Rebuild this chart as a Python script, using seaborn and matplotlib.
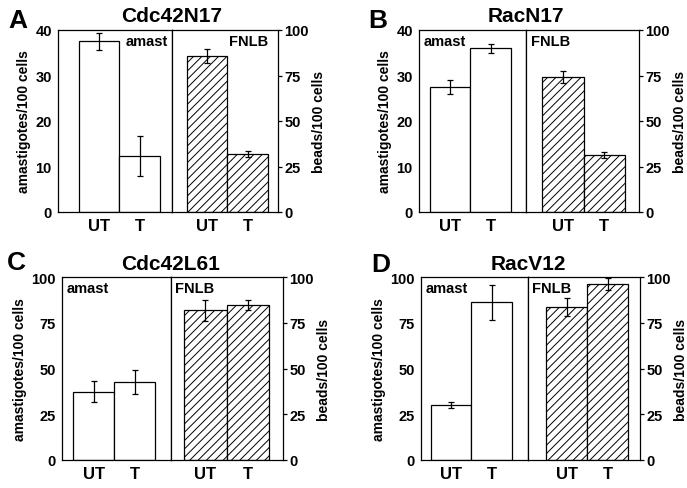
import numpy as np
import pandas as pd
import seaborn as sns
import matplotlib.pyplot as plt

# Data (per panel: UT, T)
panel_letters = ["A", "B", "C", "D"]
titles = ["Cdc42N17", "RacN17", "Cdc42L61", "RacV12"]
treatments = ["UT", "T"]

amast_vals = [[37.5, 12.3], [27.5, 36.0], [37.3, 42.5], [30.1, 86.2]]
amast_err = [[1.9, 4.3], [1.5, 1.0], [5.7, 6.6], [1.5, 9.5]]
fnlb_vals = [[85.8, 31.8], [74.3, 31.2], [81.9, 84.5], [83.6, 96.2]]
fnlb_err = [[4.0, 1.5], [3.4, 1.6], [5.8, 2.8], [5.0, 3.2]]
amast_max = [40, 40, 100, 100]
amast_step = [10, 10, 25, 25]

# Layout in pixels: left edge, divider, right edge, top, bottom
W, H = 687, 489
boxes = [(58, 172, 278, 31, 213), (419, 526, 639, 31, 213),
         (62, 171, 283, 278, 461), (421, 528, 640, 278, 461)]
xlims_left = [(-1.02, 1.80), (-0.77, 1.87), (-0.77, 1.89), (-0.75, 1.90)]
xlims_right = [(-0.87, 1.75), (-0.89, 1.84), (-0.81, 1.83), (-0.94, 1.79)]
letter_pos = [(8, 21), (368, 21), (7, 263), (371, 265)]
title_y = [17, 17, 265, 265]
text_left_side = [False, True, True, True]

sns.set_style("white")
plt.rcParams['font.family'] = ['Liberation Sans', 'DejaVu Sans']
plt.rcParams['font.weight'] = 'bold'
plt.rcParams['axes.labelweight'] = 'bold'
plt.rcParams['text.color'] = 'black'
plt.rcParams['axes.labelcolor'] = 'black'
plt.rcParams['xtick.color'] = 'black'
plt.rcParams['ytick.color'] = 'black'
plt.rcParams['axes.edgecolor'] = 'black'
plt.rcParams['hatch.linewidth'] = 0.7
plt.rcParams['axes.linewidth'] = 0.9

fig = plt.figure(figsize=(W / 100, H / 100), dpi=100)


def style_half(ax, side):
    for s in ["left", "right", "top", "bottom"]:
        ax.spines[s].set_visible(True)
        ax.spines[s].set_color("black")
        ax.spines[s].set_linewidth(0.9)
    ax.tick_params(axis="x", length=0, pad=4, labelsize=12)
    ax.tick_params(axis="y", length=3, width=0.9, direction="out", pad=1.5,
                   labelsize=10.5, colors="black")
    ax.set_xlabel("")
    for lab in ax.get_xticklabels() + ax.get_yticklabels():
        lab.set_fontweight("bold")
    if side == "right":
        ax.yaxis.tick_right()
        ax.yaxis.set_label_position("right")


for i in range(4):
    lx0, div, rx1, top, bot = boxes[i]
    axl = fig.add_axes([lx0 / W, 1 - bot / H, (div - lx0) / W, (bot - top) / H])
    axr = fig.add_axes([div / W, 1 - bot / H, (rx1 - div) / W, (bot - top) / H])

    # amastigotes (left scale)
    df_a = pd.DataFrame({"treatment": treatments, "value": amast_vals[i]})
    sns.barplot(data=df_a, x="treatment", y="value", ax=axl, width=1,
                color="white", saturation=1, edgecolor="black",
                linewidth=0.9, errorbar=None)
    axl.errorbar(np.arange(len(treatments)), amast_vals[i], yerr=amast_err[i],
                 fmt="none", ecolor="black", elinewidth=0.9, capsize=2.2,
                 capthick=0.9, zorder=5, clip_on=False)
    axl.set_ylim(0, amast_max[i])
    axl.set_yticks(np.arange(0, amast_max[i] + 1, amast_step[i]))
    axl.set_xlim(*xlims_left[i])
    axl.set_ylabel("amastigotes/100 cells", fontsize=10, labelpad=3)
    style_half(axl, "left")

    # FNLB beads (right scale)
    df_f = pd.DataFrame({"treatment": treatments, "value": fnlb_vals[i]})
    sns.barplot(data=df_f, x="treatment", y="value", ax=axr, width=1,
                color="white", saturation=1, edgecolor="black",
                linewidth=0.9, errorbar=None)
    for p in axr.patches:
        p.set_hatch("////")
    axr.errorbar(np.arange(len(treatments)), fnlb_vals[i], yerr=fnlb_err[i],
                 fmt="none", ecolor="black", elinewidth=0.9, capsize=2.2,
                 capthick=0.9, zorder=5, clip_on=False)
    axr.set_ylim(0, 100)
    axr.set_yticks(np.arange(0, 101, 25))
    axr.set_xlim(*xlims_right[i])
    axr.set_ylabel("beads/100 cells", fontsize=10, labelpad=2)
    style_half(axr, "right")

    # labels inside the halves
    if text_left_side[i]:
        axl.text(0.04, 0.94, "amast", transform=axl.transAxes, ha="left",
                 va="center", fontsize=10.5, fontweight="bold")
        axr.text(0.04, 0.94, "FNLB", transform=axr.transAxes, ha="left",
                 va="center", fontsize=10.5, fontweight="bold")
    else:
        axl.text(0.96, 0.94, "amast", transform=axl.transAxes, ha="right",
                 va="center", fontsize=10.5, fontweight="bold")
        axr.text(0.91, 0.94, "FNLB", transform=axr.transAxes, ha="right",
                 va="center", fontsize=10.5, fontweight="bold")

    fig.text(div / W, 1 - title_y[i] / H, titles[i], ha="center",
             va="center", fontsize=15, fontweight="bold")
    lx, ly = letter_pos[i]
    fig.text(lx / W, 1 - ly / H, panel_letters[i], ha="left", va="center",
             fontsize=19, fontweight="heavy")

fig.savefig("out.png", dpi=100)
